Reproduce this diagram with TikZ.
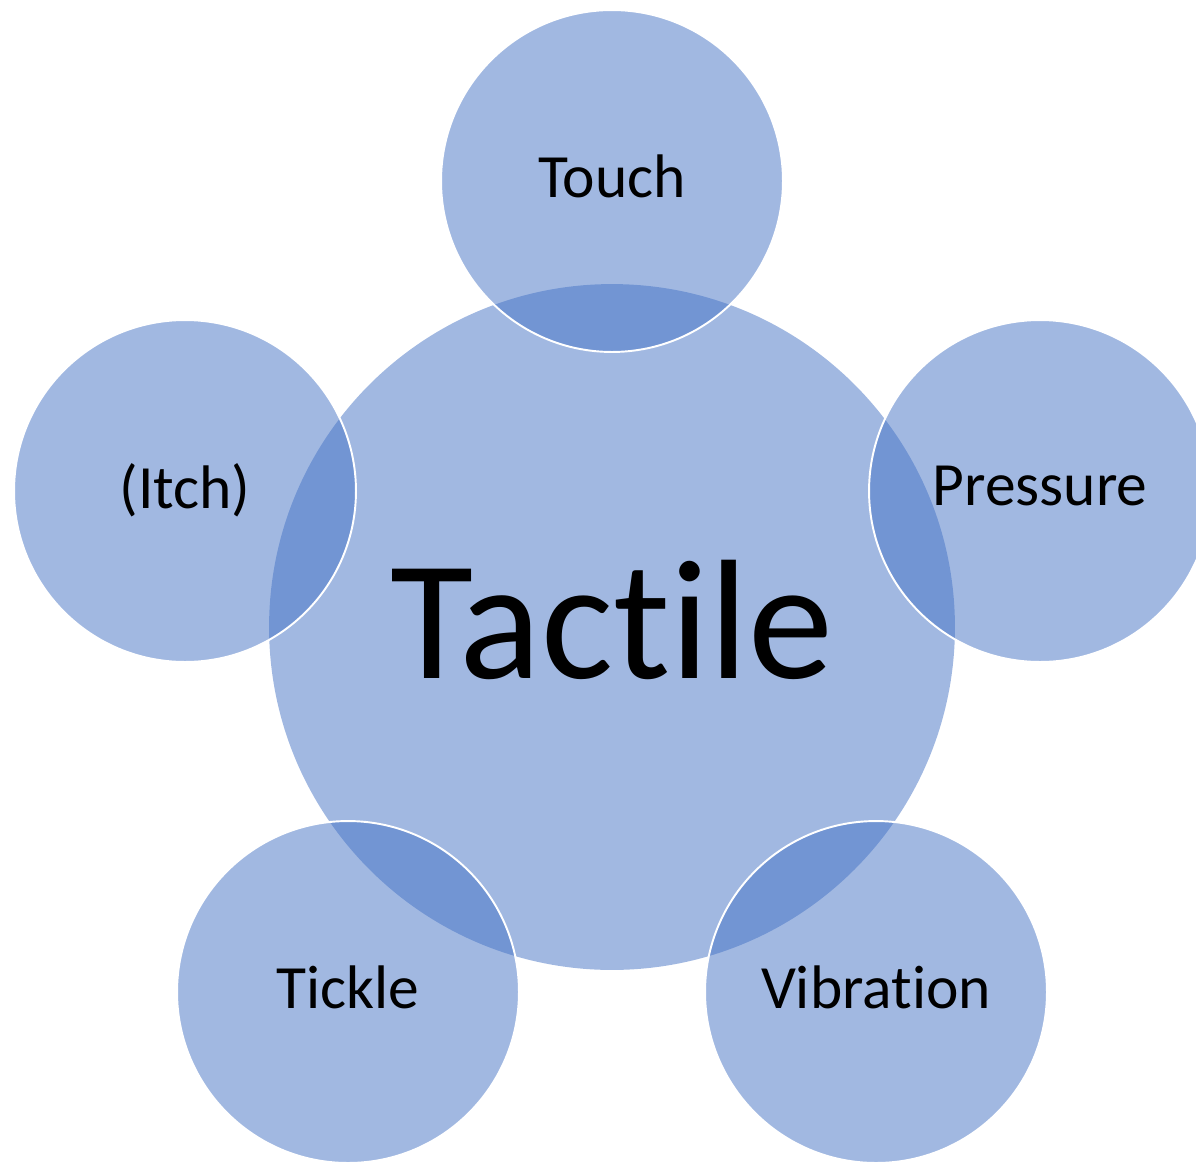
\documentclass[tikz,border=0pt]{standalone}
\usepackage{fontspec}
\setmainfont{Carlito}[Ligatures=NoCommon]
\definecolor{tactblue}{RGB}{68,114,196}
\begin{document}
\begin{tikzpicture}[x=0.02cm,y=-0.02cm,
    hub/.style={circle,fill=tactblue,fill opacity=0.5,text opacity=1,
      minimum size=13.72cm,inner sep=0pt,text depth=0.32cm,
      font=\fontsize{97}{100}\selectfont},
    sense/.style={circle,fill=tactblue,fill opacity=0.5,text opacity=1,
      draw=white,line width=1.1pt,minimum size=6.84cm,inner sep=0pt,
      text depth=0.2cm,font=\fontsize{35}{40}\selectfont}]
      \useasboundingbox (0,0) rectangle (1196,1163) ;
      \node[hub] (tactile) at (612,627) {Tactile} ;
      \node[sense] (touch) at (612,181) {Touch} ;
      \node[sense] (pressure) at (1040,491) {Pressure} ;
      \node[sense] (vibration) at (876,992) {Vibration} ;
      \node[sense] (tickle) at (348,992) {Tickle} ;
      \node[sense] (itch) at (185,491) {(Itch)} ;
    \end{tikzpicture}
\end{document}
